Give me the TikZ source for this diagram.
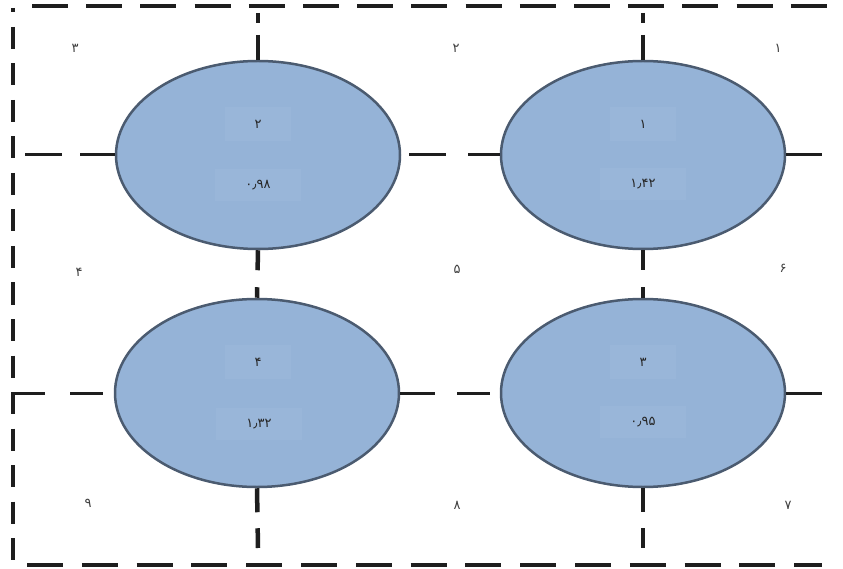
\documentclass[tikz,border=0pt]{standalone}
\usepackage{fontspec}
\newfontfamily\numfont{DejaVu Sans}
\usetikzlibrary{shapes.geometric}
\definecolor{cellfill}{HTML}{95B3D7}
\definecolor{celledge}{HTML}{4B5B70}
\definecolor{gridline}{HTML}{1E1E1E}
\begin{document}
\begin{tikzpicture}[x=1pt,y=-1pt,
  cell/.style={ellipse, draw=celledge, line width=2.5pt, fill=cellfill,
    minimum width=284pt, minimum height=188pt, inner sep=0pt},
  hline/.style={draw=gridline, line width=3pt},
  vline/.style={draw=gridline, line width=4.5pt},
  numtxt/.style={font=\numfont\fontsize{13}{14}\selectfont, text=black!85, inner sep=1pt},
  cellnum/.style={numtxt, fill=cellfill!96!white, minimum width=66pt, minimum height=34pt},
  cellval/.style={numtxt, fill=cellfill!96!white, minimum width=86pt, minimum height=32pt},
  zone/.style={numtxt, text=black!75}]
\useasboundingbox (0,0) rectangle (843,569);
\fill[white] (0,0) rectangle (843,569);

% frame ends
\coordinate (ftl) at (32,6);
\coordinate (ftr) at (828,6);
\coordinate (fbl) at (27,565);
\coordinate (fbr) at (822,565);
\coordinate (flt) at (13,27);
\coordinate (flb) at (13,562);

% outer frame
\draw[hline, line width=3.5pt, dash pattern=on 36pt off 18.2pt] (ftl) -- (ftr);
\draw[hline, line width=3.5pt, dash pattern=on 36pt off 18.8pt] (fbl) -- (fbr);
\draw[vline] (13,8) -- (13,12);
\draw[vline, dash pattern=on 22pt off 14.5pt] (flt) -- (flb);

% the four cells
\node[cell] (c2) at (258,155) {};
\node[cell] (c1) at (643,155) {};
\node[cell] (c4) at (257,393) {};
\node[cell] (c3) at (643,393) {};

% free ends of the dividers
\coordinate (h1l) at (25,155);
\coordinate (h1r) at (822,155);
\coordinate (h2l) at (11,393);
\coordinate (h2r) at (822,393);
\coordinate (v1t) at (258,13);
\coordinate (v1b) at (258,548);
\coordinate (v2t) at (643,13);
\coordinate (v2b) at (643,548);

% horizontal dividers
\draw[hline, dash pattern=on 37pt off 18pt on 40pt off 10pt] (h1l) -- (c2.west);
\draw[hline, dash pattern=on 0pt off 8pt on 37pt off 22pt on 40pt off 10pt] (c2.east) -- (c1.west);
\draw[hline] (c1.east) -- (h1r);
\draw[hline, dash pattern=on 34pt off 25pt on 33pt off 20pt] (h2l) -- (c4.west);
\draw[hline, dash pattern=on 35pt off 22pt on 33pt off 20pt] (c4.east) -- (c3.west);
\draw[hline] (c3.east) -- (h2r);

% vertical dividers
\draw[vline, dash pattern=on 10pt off 12pt on 40pt off 10pt] (v1t) -- (c2.north);
\draw[vline, dash pattern=on 20pt off 17pt on 30pt off 10pt] (c2.south) -- (c4.north);
\draw[vline, dash pattern=on 24pt off 16pt on 20pt off 40pt] (c4.south) -- (v1b);
\draw[vline, dash pattern=on 10pt off 12pt on 40pt off 10pt] (v2t) -- (c1.north);
\draw[vline, dash pattern=on 20pt off 17pt on 30pt off 10pt] (c1.south) -- (c3.north);
\draw[vline, dash pattern=on 24pt off 16pt on 20pt off 40pt] (c3.south) -- (v2b);

% cell numbers and values
\node[cellnum] (n2) at (258,124) {۲};
\node[cellval] (w2) at (258,185) {۰٫۹۸};
\node[cellnum] (n1) at (643,124) {۱};
\node[cellval] (w1) at (643,184) {۱٫۴۲};
\node[cellnum] (n4) at (258,362) {۴};
\node[cellval] (w4) at (259,424) {۱٫۳۲};
\node[cellnum] (n3) at (643,362) {۳};
\node[cellval] (w3) at (643,422) {۰٫۹۵};

% zone numbers
\node[zone] (z3) at (75,48) {۳};
\node[zone] (z2) at (456,48) {۲};
\node[zone] (z1) at (778,48) {۱};
\node[zone] (z4) at (79,272) {۴};
\node[zone] (z5) at (457,269) {۵};
\node[zone] (z6) at (783,268) {۶};
\node[zone] (z9) at (88,503) {۹};
\node[zone] (z8) at (457,505) {۸};
\node[zone] (z7) at (788,505) {۷};
\end{tikzpicture}
\end{document}
